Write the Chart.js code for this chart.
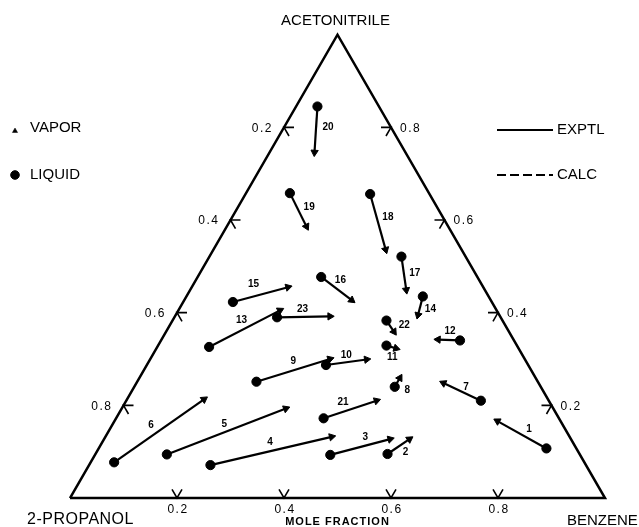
<!DOCTYPE html>
<html><head><meta charset="utf-8">
<script src="https://cdn.jsdelivr.net/npm/chart.js@4/dist/chart.umd.min.js"></script>
<style>html,body{margin:0;padding:0;background:#fff;overflow:hidden}#wrap{width:639px;height:527px}</style>
</head><body><div id="wrap"><canvas id="c" width="639" height="527"></canvas></div>
<script>
// ---- data (mole fractions) ----
const RUNS = ['1','2','3','4','5','6','7','8','9','10','11','12','13','14','15','16','17','18','19','20','21','22','23'];
const LIQ_BENZENE = [0.837,0.546,0.440,0.227,0.134,0.044,0.663,0.487,0.223,0.335,0.427,0.559,0.097,0.442,0.093,0.231,0.359,0.233,0.082,0.040,0.388,0.400,0.192];
const LIQ_ACN     = [0.107,0.095,0.093,0.071,0.094,0.077,0.210,0.240,0.251,0.287,0.329,0.340,0.326,0.435,0.423,0.477,0.521,0.656,0.658,0.845,0.172,0.383,0.390];
const VAP_BENZENE = [0.716,0.571,0.535,0.423,0.307,0.144,0.574,0.487,0.336,0.405,0.448,0.517,0.190,0.453,0.180,0.313,0.404,0.322,0.149,0.084,0.468,0.426,0.290];
const VAP_ACN     = [0.166,0.127,0.127,0.132,0.193,0.213,0.248,0.259,0.300,0.299,0.323,0.342,0.405,0.395,0.455,0.427,0.449,0.536,0.586,0.746,0.210,0.359,0.392];
const TICKS = [0.2,0.4,0.6,0.8];
const TICK_LABELS = ['0.2','0.4','0.6','0.8'];
const VERTEX_LABELS = ['ACETONITRILE','2-PROPANOL','BENZENE'];
const AXIS_TITLE = 'MOLE FRACTION';
const LEGEND_LABELS = ['VAPOR','LIQUID','EXPTL','CALC'];

// ---- layout / style (not data) ----
const LABEL_OFFSETS = [[7,-6],[7,6],[5,-10],[-1,-9],[-2,-7],[-8,-6],[4,-5],[10,8],[0,-9],[0,-7],[1,10],[1,-9],[-3,-8],[10,4],[-7,-10],[4,-8],[11,0],[10,-5],[11,-3],[12,-2],[-7,-7],[14,-1],[-1,-8]];
const U = 535; // px per unit
const H = Math.sqrt(3)/2;
const TL = 10/U; // tick arm length
function tern(b,a){ return {x: b + a/2, y: a*H}; }

const datasets = [];
// triangle frame
datasets.push({data:[tern(0,0),tern(1,0),tern(0,1),tern(0,0)], showLine:true, borderColor:'#000', borderWidth:2.5, pointRadius:0, fill:false, borderJoinStyle:'miter'});
// tick marks
const tickPts = [];
function arm(p,dx,dy){ return {x:p.x+dx*TL, y:p.y+dy*TL}; }
TICKS.forEach(v=>{
  const pb = tern(v,0);              // benzene on bottom
  tickPts.push(arm(pb,-0.5,H), pb, arm(pb,0.5,H), {x:pb.x,y:null});
  const pl = tern(0,1-v);            // 2-propanol on left
  tickPts.push(arm(pl,1,0), pl, arm(pl,0.5,-H), {x:pl.x,y:null});
  const pr = tern(1-v,v);            // acetonitrile on right
  tickPts.push(arm(pr,-1,0), pr, arm(pr,-0.5,-H), {x:pr.x,y:null});
});
datasets.push({data:tickPts, showLine:true, spanGaps:false, borderColor:'#000', borderWidth:1.6, pointRadius:0});
// tie lines
RUNS.forEach((r,i)=>{
  const L = tern(LIQ_BENZENE[i], LIQ_ACN[i]);
  const V = tern(VAP_BENZENE[i], VAP_ACN[i]);
  const rot = Math.atan2(V.x-L.x, V.y-L.y)*180/Math.PI;
  datasets.push({label:r, data:[L,V], showLine:true, borderColor:'#000', borderWidth:2.2,
    pointStyle:['circle','triangle'], pointRadius:[4.6,4.2], pointRotation:[0,rot],
    pointBackgroundColor:'#000', pointBorderColor:'#000', pointBorderWidth:1});
});
// legend markers
const LEG = {symX:(15-70)/U, textX:(30-70)/U, vapY:(498-131)/U, liqY:(498-175)/U,
             lineX0:(497-70)/U, lineX1:(553-70)/U, ltextX:(557-70)/U, expY:(498-130)/U, calcY:(498-175)/U};
datasets.push({data:[{x:LEG.symX,y:LEG.vapY}], pointStyle:'triangle', pointRadius:3, pointBackgroundColor:'#000', pointBorderColor:'#000', pointBorderWidth:0.5});
datasets.push({data:[{x:LEG.symX,y:LEG.liqY}], pointStyle:'circle', pointRadius:4.3, pointBackgroundColor:'#000', pointBorderColor:'#000'});
datasets.push({data:[{x:LEG.lineX0,y:LEG.expY},{x:LEG.lineX1,y:LEG.expY}], showLine:true, borderColor:'#000', borderWidth:2, pointRadius:0});
datasets.push({data:[{x:LEG.lineX0,y:LEG.calcY},{x:LEG.lineX1,y:LEG.calcY}], showLine:true, borderColor:'#000', borderWidth:2, borderDash:[9,4], pointRadius:0});

const FONT = '"Liberation Sans", Arial, sans-serif';
const textPlugin = {
  id:'texts',
  afterDatasetsDraw(chart){
    const ctx = chart.ctx, xs = chart.scales.x, ys = chart.scales.y;
    const P = p => [xs.getPixelForValue(p.x), ys.getPixelForValue(p.y)];
    ctx.save();
    ctx.fillStyle = '#000';
    ctx.textBaseline = 'middle';
    // vertex labels
    ctx.font = '15px ' + FONT;
    let [tx,ty] = P(tern(0,1)); ctx.textAlign='center'; ctx.fillText(VERTEX_LABELS[0], tx-2, ty-14);
    [tx,ty] = P(tern(0,0)); ctx.textAlign='left'; ctx.font='16px '+FONT; ctx.letterSpacing='0.5px'; ctx.fillText(VERTEX_LABELS[1], tx-43, ty+22);
    ctx.letterSpacing='0px';
    [tx,ty] = P(tern(1,0)); ctx.font='15px '+FONT; ctx.fillText(VERTEX_LABELS[2], tx-38, ty+23);
    // axis title
    [tx,ty] = P(tern(0.5,0)); ctx.textAlign='center'; ctx.font='bold 11px '+FONT; ctx.letterSpacing='1px'; ctx.fillText(AXIS_TITLE, tx, ty+24);
    // tick labels
    ctx.font = '12px ' + FONT;
    ctx.letterSpacing = '1.5px';
    TICKS.forEach((v,i)=>{
      let [x,y] = P(tern(v,0)); ctx.textAlign='center'; ctx.fillText(TICK_LABELS[i], x+1, y+12);
      [x,y] = P(tern(0,1-v)); ctx.textAlign='right'; ctx.fillText(TICK_LABELS[i], x-11, y+1);
      [x,y] = P(tern(1-v,v)); ctx.textAlign='left'; ctx.fillText(TICK_LABELS[i], x+9, y+1);
    });
    ctx.letterSpacing = '0px';
    // legend text
    ctx.font = '15px ' + FONT; ctx.textAlign='left';
    let [lx,ly] = P({x:LEG.textX,y:LEG.vapY+3/U}); ctx.fillText(LEGEND_LABELS[0], lx, ly);
    [lx,ly] = P({x:LEG.textX,y:LEG.liqY}); ctx.fillText(LEGEND_LABELS[1], lx, ly);
    [lx,ly] = P({x:LEG.ltextX,y:LEG.expY}); ctx.fillText(LEGEND_LABELS[2], lx, ly);
    [lx,ly] = P({x:LEG.ltextX,y:LEG.calcY}); ctx.fillText(LEGEND_LABELS[3], lx, ly);
    // run numbers
    ctx.font = 'bold 10px ' + FONT; ctx.textAlign='center';
    RUNS.forEach((r,i)=>{
      const [x1,y1] = P(tern(LIQ_BENZENE[i], LIQ_ACN[i]));
      const [x2,y2] = P(tern(VAP_BENZENE[i], VAP_ACN[i]));
      ctx.fillText(r, (x1+x2)/2 + LABEL_OFFSETS[i][0], (y1+y2)/2 + LABEL_OFFSETS[i][1]);
    });
    ctx.restore();
  }
};

new Chart(document.getElementById('c'), {
  type:'scatter',
  data:{datasets},
  options:{
    responsive:false, devicePixelRatio:1, animation:false,
    layout:{padding:0, autoPadding:false},
    plugins:{legend:{display:false}, tooltip:{enabled:false}},
    elements:{line:{tension:0}},
    scales:{
      x:{type:'linear', display:false, min:-70/U, max:569/U},
      y:{type:'linear', display:false, min:-29/U, max:498/U}
    }
  },
  plugins:[textPlugin]
});
</script></body></html>
